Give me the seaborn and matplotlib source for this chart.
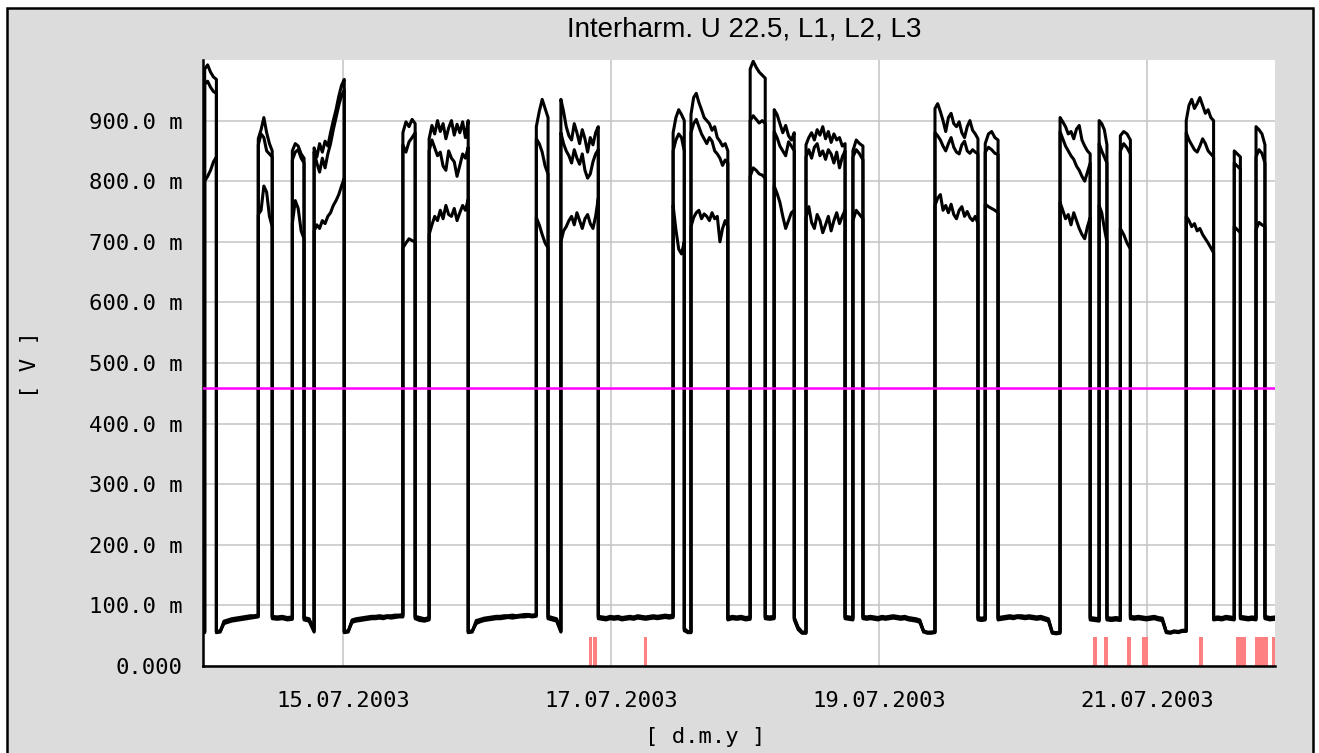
import numpy as np
import pandas as pd
import matplotlib
matplotlib.use("Agg")
import matplotlib.pyplot as plt
import matplotlib.dates as mdates
from matplotlib.patches import Rectangle
import seaborn as sns

# ---------------------------------------------------------------- data
title = "Interharm. U 22.5, L1, L2, L3"
t_ref = pd.Timestamp("2003-07-15 00:00")

# Hours (relative to 15.07.2003 00:00) at which the recorder switches level.
run_edges_h = [-25.0, -24.8, -22.7, -15.2, -12.7, -9.1, -7.0, -5.2, 0.2, 10.7,
               12.9, 15.4, 22.4, 34.6, 36.7, 39.0, 45.7, 59.1, 61.1, 62.3,
               68.9, 72.9, 75.6, 77.2, 80.8, 82.9, 89.9, 91.3, 93.1, 106.0,
               113.7, 115.0, 117.3, 128.4, 133.8, 135.4, 136.8, 139.2, 141.0,
               151.0, 155.9, 159.6, 160.7, 163.5, 165.1, 166.9]

# Samples (mV) inside each run, per phase
l1_runs = [
    [55, 55],
    [985, 992, 980, 972, 968],
    [55, 56, 72, 74, 76, 77, 78, 79, 80, 81, 82, 83],
    [870, 885, 905, 880, 862, 850],
    [80, 79, 80, 78, 79],
    [850, 862, 858, 845, 838],
    [78, 76, 58],
    [855, 840, 862, 848, 866, 858, 880, 900, 918, 940, 958, 968],
    [55, 56, 74, 76, 77, 78, 79, 80, 80, 81, 80, 82, 81, 82, 83, 83],
    [880, 898, 890, 902, 895],
    [80, 77, 76, 78],
    [870, 892, 878, 900, 882, 895, 870, 888, 900, 876, 894, 880, 898, 872, 900],
    [55, 56, 72, 75, 77, 78, 79, 80, 80, 81, 82, 81, 82, 83, 83, 84, 83, 84],
    [890, 915, 935, 920, 905],
    [80, 78, 76, 58],
    [935, 915, 890, 875, 868, 895, 880, 862, 885, 870, 848, 872, 860, 880, 890],
    [80, 79, 78, 80, 79, 80, 78, 79, 80, 79, 81, 80, 79, 80, 81, 80, 81, 82, 81, 82],
    [880, 905, 918, 910, 900],
    [60, 55, 55],
    [910, 938, 945, 930, 918, 905, 900, 895, 884, 890, 872, 866, 858, 862, 850],
    [78, 80, 79, 80, 78, 79],
    [985, 998, 988, 980, 975, 970],
    [80, 79, 80],
    [918, 910, 895, 880, 892, 875, 868, 880],
    [78, 62, 55, 55],
    [860, 872, 880, 868, 885, 876, 890, 870, 882, 864, 878, 868, 872, 858, 862],
    [80, 79, 78],
    [850, 868, 862, 858],
    [80, 79, 80, 79, 78, 80, 79, 80, 81, 80, 79, 80, 78, 77, 76, 74, 58, 56, 56, 57],
    [920, 928, 915, 900, 882, 905, 912, 895, 890, 898, 880, 872, 890, 900, 884, 878, 870],
    [78, 77, 78],
    [862, 878, 882, 872, 868],
    [78, 79, 80, 81, 80, 82, 81, 80, 81, 80, 79, 80, 78, 76, 55, 54, 55],
    [905, 898, 890, 878, 882, 870, 886, 892, 868, 858, 850, 845],
    [78, 77, 76],
    [900, 895, 885, 860],
    [78, 77, 78, 77],
    [875, 882, 878, 868],
    [80, 79, 80, 79, 78, 79, 80, 78, 77, 56, 55, 57, 56, 58, 58],
    [900, 925, 935, 920, 928, 938, 925, 912, 918, 905, 900],
    [78, 79, 78, 80, 79, 78],
    [850, 845, 840],
    [80, 79, 78, 79, 78],
    [890, 885, 878, 860],
    [80, 78, 79],
]
l2_runs = [
    [55, 56],
    [960, 965, 955, 948, 945],
    [56, 57, 74, 76, 78, 79, 80, 81, 82, 83, 83, 84],
    [860, 878, 872, 850, 845, 840],
    [82, 81, 82, 80, 81],
    [835, 848, 852, 838, 830],
    [80, 78, 60],
    [848, 830, 815, 838, 822, 845, 862, 885, 905, 925, 942, 950],
    [56, 57, 76, 78, 79, 80, 81, 82, 82, 83, 82, 83, 83, 84, 84, 85],
    [860, 848, 865, 872, 880],
    [82, 80, 78, 80],
    [850, 868, 855, 842, 848, 825, 818, 850, 838, 832, 808, 826, 845, 838, 856],
    [56, 57, 75, 77, 79, 80, 81, 82, 82, 83, 83, 84, 83, 84, 85, 85, 84, 85],
    [870, 862, 848, 825, 812],
    [82, 80, 78, 57],
    [880, 862, 850, 842, 830, 852, 838, 828, 845, 818, 805, 812, 832, 845, 852],
    [82, 81, 80, 82, 81, 82, 80, 81, 82, 81, 83, 82, 81, 82, 83, 82, 83, 84, 83, 84],
    [850, 868, 878, 872, 850],
    [58, 56, 56],
    [880, 895, 902, 890, 878, 870, 862, 872, 866, 850, 845, 838, 826, 835, 830],
    [80, 82, 81, 82, 80, 81],
    [900, 908, 902, 896, 900, 895],
    [82, 81, 82],
    [882, 872, 858, 850, 842, 865, 858, 850],
    [80, 64, 56, 56],
    [840, 852, 838, 856, 862, 842, 850, 836, 852, 845, 830, 848, 822, 840, 850],
    [82, 81, 80],
    [840, 852, 845, 835],
    [82, 81, 82, 81, 80, 82, 81, 82, 83, 82, 81, 82, 80, 79, 78, 76, 57, 55, 55, 56],
    [880, 875, 868, 858, 850, 862, 872, 856, 848, 845, 860, 866, 850, 846, 852, 848, 845],
    [80, 79, 80],
    [848, 856, 852, 846, 844],
    [80, 81, 82, 83, 82, 83, 83, 82, 83, 82, 81, 82, 80, 78, 56, 55, 56],
    [882, 870, 858, 850, 842, 836, 825, 818, 808, 800, 815, 830],
    [80, 79, 78],
    [862, 850, 840, 830],
    [80, 79, 80, 79],
    [850, 862, 855, 845],
    [82, 81, 82, 81, 80, 81, 82, 80, 79, 57, 56, 58, 57, 59, 59],
    [880, 868, 860, 852, 848, 858, 870, 862, 850, 845, 840],
    [80, 81, 80, 82, 81, 80],
    [830, 825, 820],
    [82, 81, 80, 81, 80],
    [840, 852, 846, 830],
    [82, 80, 81],
]
l3_runs = [
    [55, 57],
    [800, 808, 818, 832, 840],
    [57, 58, 70, 72, 74, 75, 76, 77, 78, 79, 80, 81],
    [745, 752, 792, 782, 742, 725],
    [78, 77, 78, 76, 77],
    [730, 768, 755, 718, 705],
    [76, 74, 56],
    [718, 728, 722, 735, 730, 742, 748, 760, 768, 778, 792, 805],
    [57, 58, 72, 74, 75, 76, 77, 78, 78, 79, 78, 80, 79, 80, 81, 81],
    [690, 698, 705, 702, 700],
    [78, 75, 74, 76],
    [712, 728, 742, 735, 752, 738, 760, 745, 742, 755, 735, 748, 760, 752, 770],
    [57, 58, 70, 73, 75, 76, 77, 78, 78, 79, 80, 79, 80, 81, 81, 82, 81, 82],
    [740, 728, 712, 698, 690],
    [78, 76, 74, 56],
    [700, 718, 725, 735, 742, 728, 748, 735, 722, 738, 745, 730, 722, 742, 772],
    [78, 77, 76, 78, 77, 78, 76, 77, 78, 77, 79, 78, 77, 78, 79, 78, 79, 80, 79, 80],
    [760, 720, 688, 680, 700],
    [62, 57, 57],
    [725, 740, 748, 752, 738, 746, 742, 735, 748, 738, 742, 700, 722, 735, 725],
    [76, 78, 77, 78, 76, 77],
    [808, 822, 818, 812, 810, 805],
    [78, 77, 78],
    [792, 780, 765, 742, 722, 735, 748, 752],
    [76, 60, 54, 54],
    [740, 758, 732, 722, 745, 735, 715, 728, 742, 718, 735, 748, 730, 742, 752],
    [78, 77, 76],
    [735, 752, 745, 738],
    [78, 77, 78, 77, 76, 78, 77, 78, 79, 78, 77, 78, 76, 75, 74, 72, 56, 54, 54, 55],
    [760, 772, 778, 752, 760, 748, 762, 745, 738, 752, 758, 742, 750, 740, 735, 742, 730],
    [76, 75, 76],
    [762, 758, 755, 752, 748],
    [76, 77, 78, 79, 78, 80, 79, 78, 79, 78, 77, 78, 76, 74, 54, 53, 54],
    [765, 752, 738, 745, 728, 748, 735, 722, 712, 705, 725, 740],
    [76, 75, 74],
    [760, 748, 722, 700],
    [76, 75, 76, 75],
    [722, 712, 698, 688],
    [78, 77, 78, 77, 76, 77, 78, 76, 75, 55, 54, 56, 55, 57, 57],
    [742, 735, 725, 730, 718, 722, 712, 705, 698, 690, 682],
    [76, 77, 76, 78, 77, 76],
    [725, 720, 715],
    [78, 77, 76, 77, 76],
    [720, 732, 728, 725],
    [78, 76, 77],
]

# Event flags along the bottom (start / end in hours)
flag_start_h = [44.1, 44.8, 53.9, 134.3, 136.3, 140.4, 143.1, 153.3, 159.9, 163.3, 166.4]
flag_end_h = [44.6, 45.5, 54.4, 135.0, 137.0, 141.1, 144.2, 154.0, 161.7, 165.7, 166.9]
flag_height = 48

limit_value = 459

ytick_values = [0, 100, 200, 300, 400, 500, 600, 700, 800, 900]
ytick_labels = ["0.000", "100.0 m", "200.0 m", "300.0 m", "400.0 m",
                "500.0 m", "600.0 m", "700.0 m", "800.0 m", "900.0 m"]
xtick_dates = ["2003-07-15", "2003-07-17", "2003-07-19", "2003-07-21"]
xtick_labels = ["15.07.2003", "17.07.2003", "19.07.2003", "21.07.2003"]
x_range_h = (-25.1, 166.9)


# ---------------------------------------------------------------- frame
def expand(runs):
    hours, vals = [], []
    for i, seg in enumerate(runs):
        hours.extend(np.linspace(run_edges_h[i], run_edges_h[i + 1], len(seg)))
        vals.extend(seg)
    return hours, vals


frames = []
for phase, runs in (("L1", l1_runs), ("L2", l2_runs), ("L3", l3_runs)):
    h, v = expand(runs)
    frames.append(pd.DataFrame({
        "time": t_ref + pd.to_timedelta(h, unit="h"),
        "value": v,
        "phase": phase,
    }))
df = pd.concat(frames, ignore_index=True)

# ---------------------------------------------------------------- style
sns.set_style("white")
plt.rcParams["font.family"] = ["DejaVu Sans Mono"]
plt.rcParams["text.color"] = "black"
plt.rcParams["xtick.color"] = "black"
plt.rcParams["ytick.color"] = "black"
plt.rcParams["axes.labelcolor"] = "black"

W, H = 1319, 753
fig = plt.figure(figsize=(W / 100, H / 100), dpi=100)
fig.patch.set_facecolor("white")
fig.add_artist(Rectangle((7 / W, -0.02), 1306 / W, 0.02 + 745 / H,
                         transform=fig.transFigure, facecolor="#DCDCDC",
                         edgecolor="black", linewidth=1.8, zorder=-5))

ax = fig.add_axes([203 / W, 87 / H, 1072 / W, 606 / H])
ax.set_facecolor("white")
ax.set_axisbelow(True)
ax.grid(True, color="#C4C4C4", linewidth=1.1)

# event flags
fl_start = [mdates.date2num(t_ref + pd.Timedelta(hours=s)) for s in flag_start_h]
fl_width = [(e - s) / 24 for s, e in zip(flag_start_h, flag_end_h)]
ax.bar(fl_start, [flag_height] * len(fl_start), width=fl_width, align="edge",
       color="#FF8080", linewidth=0, zorder=1)

sns.lineplot(data=df, x="time", y="value", hue="phase",
             palette=["black", "black", "black"], estimator=None, sort=False,
             linewidth=2.2, legend=False, ax=ax, zorder=2)

ax.axhline(limit_value, color="#FF00FF", linewidth=1.8, zorder=3)

ax.set_xlim(mdates.date2num(t_ref + pd.Timedelta(hours=x_range_h[0])),
            mdates.date2num(t_ref + pd.Timedelta(hours=x_range_h[1])))
ax.set_ylim(0, 1000)

ax.set_yticks(ytick_values, ytick_labels)
ax.set_xticks([mdates.date2num(pd.Timestamp(d)) for d in xtick_dates], xtick_labels)
ax.tick_params(axis="both", direction="out", length=14, width=1.6,
               colors="black", labelsize=16)
ax.tick_params(axis="y", pad=1)
ax.tick_params(axis="x", pad=4)
ax.set_xlabel("")
ax.set_ylabel("")

for side in ("top", "right"):
    ax.spines[side].set_visible(False)
for side in ("left", "bottom"):
    ax.spines[side].set_color("black")
    ax.spines[side].set_linewidth(1.8)

fig.text(744 / W, 1 - 30 / H, title, family="Liberation Sans", fontsize=20,
         color="black", ha="center", va="center")
fig.text(30 / W, 1 - 365 / H, "[ V ]", rotation=90, fontsize=16,
         color="black", ha="center", va="center")
fig.text(705 / W, 1 - 737 / H, "[ d.m.y ]", fontsize=16,
         color="black", ha="center", va="center")

fig.savefig("out.png", dpi=100)
